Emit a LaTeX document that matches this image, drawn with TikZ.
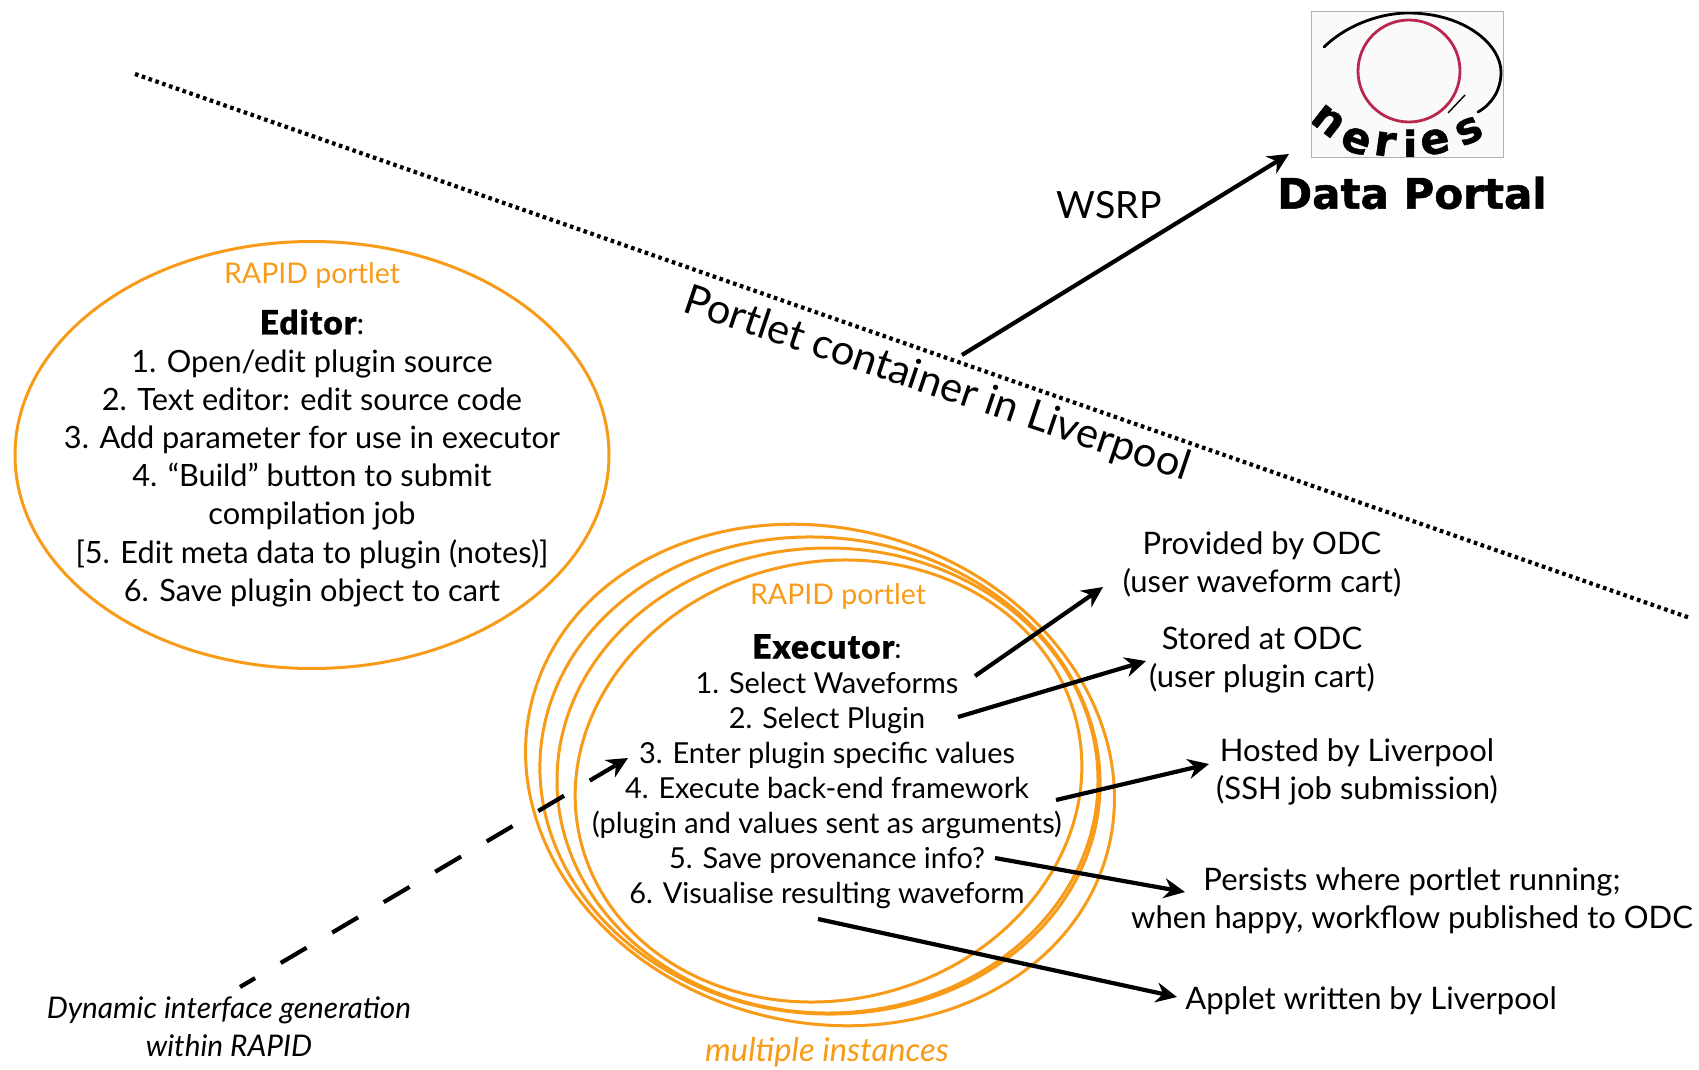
\documentclass[tikz,border=0pt]{standalone}
\usepackage{fontspec}
\setmainfont{Lato}
\newfontfamily\heavyfont[BoldFeatures={FakeBold=1.2}]{DejaVu Sans}
\newfontfamily\latoblack[FakeBold=0.5,LetterSpace=3]{Lato Black}
\usetikzlibrary{arrows.meta,shapes.geometric}
\definecolor{rapidorange}{HTML}{F89B18}
\definecolor{logored}{HTML}{B8284E}
\newcommand{\headword}[1]{{\latoblack\fontsize{33.5}{38}\selectfont #1}}
\tikzset{
  portlet/.style={draw=rapidorange,line width=3pt,ellipse,inner sep=0pt},
  bigarrow/.style={draw=black,line width=4.2pt,-{Stealth[length=21pt,width=20pt]}},
  label/.style={inner sep=0pt,align=center,font=\fontsize{31}{38}\selectfont},
  edlabel/.style={inner sep=0pt,align=center,font=\fontsize{30.7}{38.1}\selectfont},
  execlabel/.style={inner sep=0pt,align=center,font=\fontsize{28.9}{35}\selectfont},
  orangelabel/.style={inner sep=0pt,text=rapidorange,font=\fontsize{28.5}{34}\selectfont},
  logoletter/.style={inner sep=0pt,font=\heavyfont\bfseries\fontsize{43}{43}\selectfont},
}
\begin{document}
\begin{tikzpicture}[x=1pt,y=-1pt]
\useasboundingbox (0,0) rectangle (1699,1070);
% logo
\begin{scope}
  \path[clip] (1311,11) rectangle (1503,157);
  \fill[black!2] (1311,11) rectangle (1503,157);
  \draw[logored,line width=2.8pt] (1409,71) circle (51);
  \draw[black,line width=2.8pt,line cap=round] (1324,47) .. controls (1350,22) and (1385,13) .. (1408,13)
     .. controls (1465,13) and (1501,45) .. (1501,72) .. controls (1501,90) and (1492,104) .. (1478,112);
  \draw[black,line width=1.4pt] (1448,113) -- (1465,95);
  \node[logoletter,rotate=-38] (ln1) at (1328,121) {n};
  \node[logoletter,rotate=-20] (ln2) at (1356,141) {e};
  \node[logoletter,rotate=-8] (ln3) at (1385,144) {r};
  \node[logoletter] (ln4) at (1410,146) {i};
  \node[logoletter,rotate=10] (ln5) at (1435,142) {e};
  \node[logoletter,rotate=25] (ln6) at (1469,131) {s};
\end{scope}
\draw[black!30,line width=0.8pt] (1311,11) rectangle (1503,157);
\node[inner sep=0pt,font=\heavyfont\bfseries\fontsize{42}{42}\selectfont] (portal) at (1412,193) {Data Portal};
% boundary
\coordinate (dotA) at (135,74);
\coordinate (dotB) at (1690,618);
\draw[line width=4.2pt,dash pattern=on 3.6pt off 3.6pt] (dotA) -- (dotB);
\node[inner sep=0pt,rotate=-18.6,font=\fontsize{41.6}{42}\selectfont] (container) at (937,385) {Portlet container in Liverpool};
\coordinate (wsrpA) at (962,355);
\coordinate (wsrpB) at (1289,154);
\draw[bigarrow] (wsrpA) -- (wsrpB);
\node[inner sep=0pt,font=\fontsize{37.5}{38}\selectfont] (wsrp) at (1109,205) {WSRP};
% editor
\node[portlet,minimum width=594pt,minimum height=427pt] (editor) at (312,455) {};
\node[orangelabel] (edtitle) at (312,275) {RAPID portlet};
\node[edlabel] (edtext) at (312,458) {\headword{Editor}:\\1. Open/edit plugin source\\2. Text editor: edit source code\\3. Add parameter for use in executor\\4. “Build” button to submit\\compilation job\\{[}5. Edit meta data to plugin (notes)]\\6. Save plugin object to cart};
% executor
\node[portlet,rotate=-15,minimum width=595pt,minimum height=494pt] (ex1) at (820,775) {};
\node[portlet,rotate=-6,minimum width=561pt,minimum height=476pt] (ex2) at (820,775.5) {};
\node[portlet,minimum width=541pt,minimum height=465pt] (ex3) at (827.5,780.5) {};
\node[portlet,rotate=13,minimum width=510pt,minimum height=438pt] (ex4) at (828.5,781) {};
\node[orangelabel] (extitle) at (838,596) {RAPID portlet};
\node[execlabel] (extext) at (827,771.5) {\headword{Executor}:\\1. Select Waveforms\\2. Select Plugin\\3. Enter plugin specific values\\4. Execute back-end framework\\(plugin and values sent as arguments)\\5. Save provenance info?\\6. Visualise resulting waveform};
\node[orangelabel,font=\itshape\fontsize{32.7}{34}\selectfont] (multi) at (827,1052) {multiple instances};
% right labels
\node[label] (provided) at (1262,564) {Provided by ODC\\(user waveform cart)};
\node[label] (stored) at (1262,660) {Stored at ODC\\(user plugin cart)};
\node[label] (hosted) at (1357,771.5) {Hosted by Liverpool\\(SSH job submission)};
\node[label] (persists) at (1412,901) {Persists where portlet running;\\when happy, workflow published to ODC};
\node[label] (applet) at (1371,1001) {Applet written by Liverpool};
\node[label,font=\itshape\fontsize{29.8}{38}\selectfont] (dynamic) at (229,1027) {Dynamic interface generation\\within RAPID};
% arrows
\coordinate (a1) at (975,676); \coordinate (b1) at (1103,587);
\coordinate (a2) at (958,717); \coordinate (b2) at (1146,661);
\coordinate (a3) at (1056,800); \coordinate (b3) at (1209,764);
\coordinate (a4) at (995,858); \coordinate (b4) at (1185,892);
\coordinate (a5) at (818,919); \coordinate (b5) at (1177,997);
\coordinate (dyn) at (240,987); \coordinate (dynend) at (628,758);
\draw[bigarrow] (a1) -- (b1);
\draw[bigarrow] (a2) -- (b2);
\draw[bigarrow] (a3) -- (b3);
\draw[bigarrow] (a4) -- (b4);
\draw[bigarrow] (a5) -- (b5);
\draw[bigarrow,dash pattern=on 30pt off 29.8pt,dash phase=12.5pt] (dyn) -- (dynend);
\end{tikzpicture}
\end{document}
